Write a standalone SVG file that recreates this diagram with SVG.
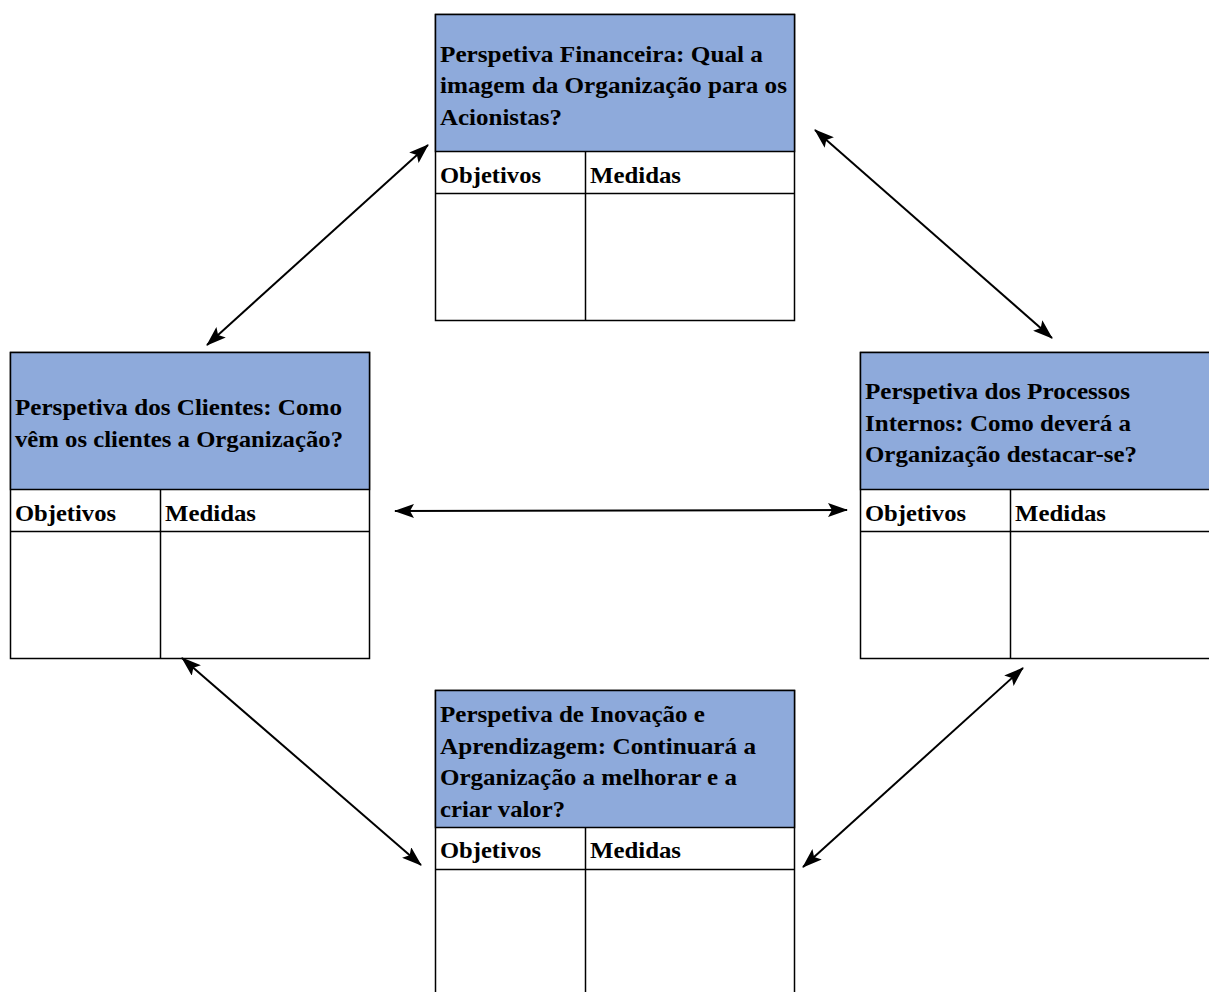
<svg xmlns="http://www.w3.org/2000/svg" width="1209" height="992" viewBox="0 0 1209 992" font-family="'Liberation Serif', 'Times New Roman', serif" font-weight="bold" font-size="23">
<style>
.hd{fill:#8eaadb;stroke:#000;stroke-width:1.5}
.bx{fill:#fff;stroke:#000;stroke-width:1.5}
.ln{stroke:#000;stroke-width:1.5;fill:none}
.cn{stroke:#000;stroke-width:2;fill:none;marker-start:url(#a);marker-end:url(#a)}
</style>
<defs>
<marker id="a" viewBox="0 0 20 14" refX="19" refY="7" markerWidth="20" markerHeight="14" markerUnits="userSpaceOnUse" orient="auto-start-reverse">
<path d="M0,0 L20,7 L0,14 L4,7 Z" fill="#000"/>
</marker>
</defs>
<rect width="1209" height="992" fill="#fff"/>
<g id="financeira">
<rect class="bx" x="435.5" y="14.5" width="359" height="306"/>
<rect class="hd" x="435.5" y="14.5" width="359" height="137"/>
<line class="ln" x1="435.5" y1="193.5" x2="794.5" y2="193.5"/>
<line class="ln" x1="585.5" y1="151.5" x2="585.5" y2="320.5"/>
<text x="440" y="62" textLength="323" lengthAdjust="spacingAndGlyphs">Perspetiva Financeira: Qual a</text>
<text x="440" y="93" textLength="347" lengthAdjust="spacingAndGlyphs">imagem da Organização para os</text>
<text x="440" y="125" textLength="122" lengthAdjust="spacingAndGlyphs">Acionistas?</text>
<text x="440" y="183" textLength="101" lengthAdjust="spacingAndGlyphs">Objetivos</text>
<text x="590" y="183" textLength="91" lengthAdjust="spacingAndGlyphs">Medidas</text>
</g>
<g id="clientes">
<rect class="bx" x="10.5" y="352.5" width="359" height="306"/>
<rect class="hd" x="10.5" y="352.5" width="359" height="137"/>
<line class="ln" x1="10.5" y1="531.5" x2="369.5" y2="531.5"/>
<line class="ln" x1="160.5" y1="489.5" x2="160.5" y2="658.5"/>
<text x="15" y="415" textLength="327" lengthAdjust="spacingAndGlyphs">Perspetiva dos Clientes: Como</text>
<text x="15" y="447" textLength="328" lengthAdjust="spacingAndGlyphs">vêm os clientes a Organização?</text>
<text x="15" y="521" textLength="101" lengthAdjust="spacingAndGlyphs">Objetivos</text>
<text x="165" y="521" textLength="91" lengthAdjust="spacingAndGlyphs">Medidas</text>
</g>
<g id="processos">
<rect class="bx" x="860.5" y="352.5" width="360" height="306"/>
<rect class="hd" x="860.5" y="352.5" width="360" height="137"/>
<line class="ln" x1="860.5" y1="531.5" x2="1220" y2="531.5"/>
<line class="ln" x1="1010.5" y1="489.5" x2="1010.5" y2="658.5"/>
<text x="865" y="399" textLength="265" lengthAdjust="spacingAndGlyphs">Perspetiva dos Processos</text>
<text x="865" y="431" textLength="266" lengthAdjust="spacingAndGlyphs">Internos: Como deverá a</text>
<text x="865" y="462" textLength="272" lengthAdjust="spacingAndGlyphs">Organização destacar-se?</text>
<text x="865" y="521" textLength="101" lengthAdjust="spacingAndGlyphs">Objetivos</text>
<text x="1015" y="521" textLength="91" lengthAdjust="spacingAndGlyphs">Medidas</text>
</g>
<g id="inovacao">
<rect class="bx" x="435.5" y="690.5" width="359" height="320"/>
<rect class="hd" x="435.5" y="690.5" width="359" height="137"/>
<line class="ln" x1="435.5" y1="869.5" x2="794.5" y2="869.5"/>
<line class="ln" x1="585.5" y1="827.5" x2="585.5" y2="1000"/>
<text x="440" y="722" textLength="265" lengthAdjust="spacingAndGlyphs">Perspetiva de Inovação e</text>
<text x="440" y="754" textLength="316" lengthAdjust="spacingAndGlyphs">Aprendizagem: Continuará a</text>
<text x="440" y="785" textLength="297" lengthAdjust="spacingAndGlyphs">Organização a melhorar e a</text>
<text x="440" y="817" textLength="125" lengthAdjust="spacingAndGlyphs">criar valor?</text>
<text x="440" y="858" textLength="101" lengthAdjust="spacingAndGlyphs">Objetivos</text>
<text x="590" y="858" textLength="91" lengthAdjust="spacingAndGlyphs">Medidas</text>
</g>
<g id="connectors">
<line class="cn" x1="207" y1="345" x2="428" y2="145"/>
<line class="cn" x1="815" y1="130" x2="1052" y2="338"/>
<line class="cn" x1="395" y1="511" x2="847" y2="510"/>
<line class="cn" x1="182" y1="658" x2="421" y2="865"/>
<line class="cn" x1="803" y1="867" x2="1023" y2="668"/>
</g>
</svg>
